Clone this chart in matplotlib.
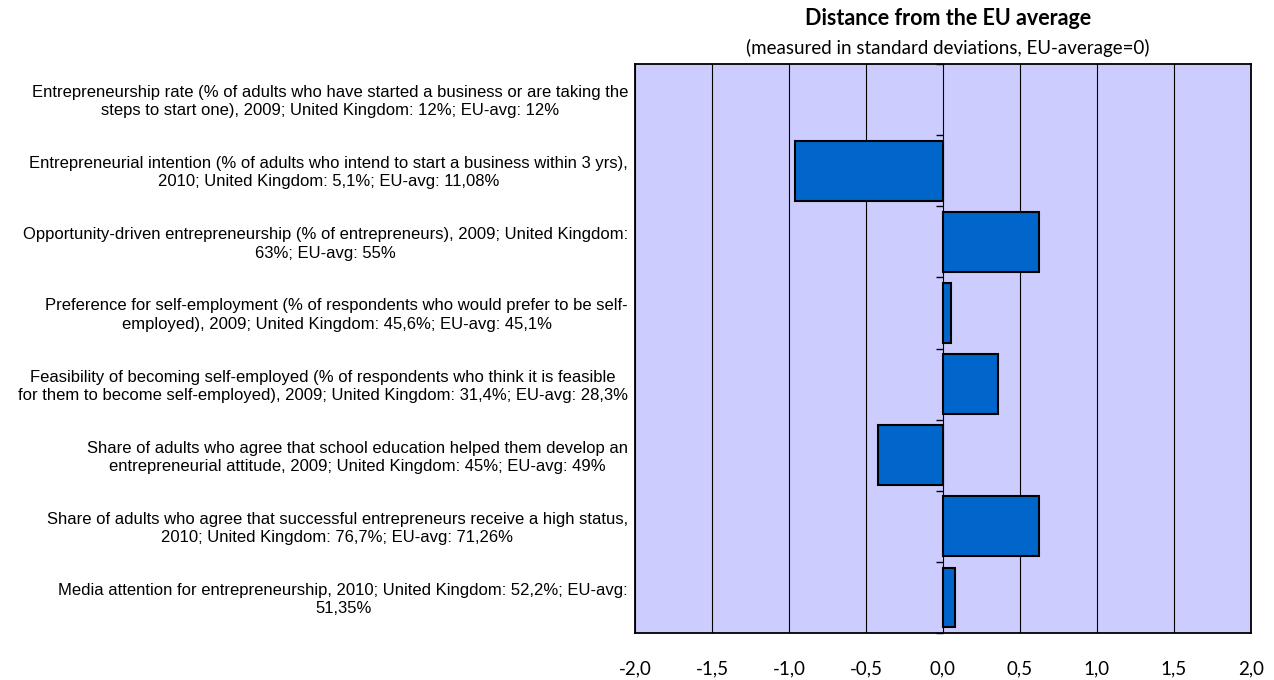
import matplotlib
matplotlib.use('Agg')
import matplotlib.pyplot as plt
from matplotlib.ticker import FuncFormatter, MultipleLocator
import numpy as np

# Indicators (top to bottom) and distance from EU average in standard deviations
labels = [
    "Entrepreneurship rate (% of adults who have started a business or are taking the\n"
    "steps to start one), 2009; United Kingdom: 12%; EU-avg: 12%",
    "Entrepreneurial intention (% of adults who intend to start a business within 3 yrs),\n"
    "2010; United Kingdom: 5,1%; EU-avg: 11,08%",
    "Opportunity-driven entrepreneurship (% of entrepreneurs), 2009; United Kingdom:\n"
    "63%; EU-avg: 55%",
    "Preference for self-employment (% of respondents who would prefer to be self-\n"
    "employed), 2009; United Kingdom: 45,6%; EU-avg: 45,1%",
    "Feasibility of becoming self-employed (% of respondents who think it is feasible\n"
    "for them to become self-employed), 2009; United Kingdom: 31,4%; EU-avg: 28,3%",
    "Share of adults who agree that school education helped them develop an\n"
    "entrepreneurial attitude, 2009; United Kingdom: 45%; EU-avg: 49%",
    "Share of adults who agree that successful entrepreneurs receive a high status,\n"
    "2010; United Kingdom: 76,7%; EU-avg: 71,26%",
    "Media attention for entrepreneurship, 2010; United Kingdom: 52,2%; EU-avg:\n"
    "51,35%",
]
distance = [0.0, -0.96, 0.625, 0.05, 0.36, -0.42, 0.625, 0.08]

fig = plt.figure(figsize=(12.74, 6.8), dpi=100)
ax = fig.add_axes([0.4984, 0.0691, 0.4835, 0.8368])

y = np.arange(len(labels))
ax.set_facecolor('#CCCCFF')
# no outline for an empty (zero) bar
edge_widths = [1.5 if d != 0 else 0 for d in distance]
ax.barh(y, distance, height=0.84, color='#0066CC', edgecolor='black',
        linewidth=edge_widths, zorder=3)

ax.set_xlim(-2, 2)
ax.set_ylim(len(labels) - 0.5, -0.5)
ax.xaxis.set_major_locator(MultipleLocator(0.5))
ax.xaxis.set_major_formatter(FuncFormatter(lambda v, p: f"{v:.1f}".replace('.', ',')))
ax.grid(axis='x', color='black', linewidth=0.8, zorder=1)
ax.tick_params(axis='x', length=0, pad=20, labelsize=13.5)
for t in ax.get_xticklabels():
    t.set_family('Lato')

# category separators on the zero axis
bounds = np.arange(len(labels) + 1) - 0.5
ax.plot(np.zeros_like(bounds), bounds, linestyle='none', marker=0,
        markersize=5, color='black', markeredgewidth=1, zorder=4, clip_on=False)

ax.set_yticks([])
for s in ax.spines.values():
    s.set_linewidth(1.3)
    s.set_color('black')

for yi, lab in zip(y, labels):
    ax.text(-0.0114, yi + 0.03, lab, transform=ax.get_yaxis_transform(),
            ha='right', va='center', multialignment='center',
            fontsize=12.0, family=['Liberation Sans', 'DejaVu Sans'],
            linespacing=1.28)

fig.text(0.744, 0.9735, 'Distance from the EU average', ha='center', va='center',
         fontsize=15.5, fontweight='bold', family='Lato')
fig.text(0.744, 0.929, '(measured in standard deviations, EU-average=0)',
         ha='center', va='center', fontsize=13.5, family='Lato')

fig.savefig('out.png', dpi=100)
